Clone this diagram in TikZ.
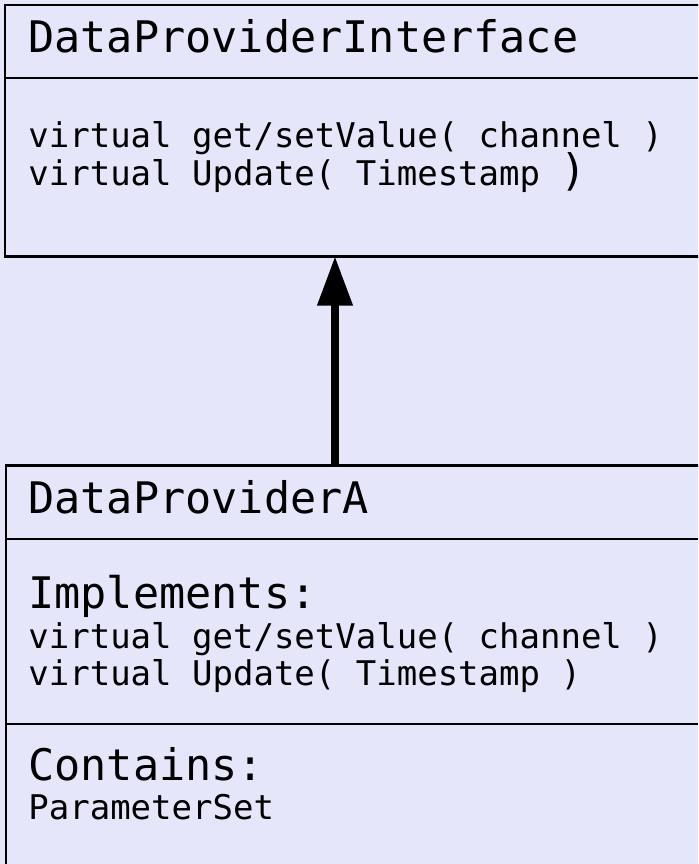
\documentclass[tikz,border=0pt]{standalone}
\usepackage{fontspec}
\setmonofont{DejaVu Sans Mono}
\usetikzlibrary{arrows.meta}
\definecolor{classfill}{RGB}{230,230,250}
\begin{document}
\begin{tikzpicture}[x=0.5pt,y=-0.5pt,
classbox/.style={draw=black,line width=1.4pt,fill=classfill,anchor=north west,inner sep=0pt,outer sep=0pt,minimum width=360pt},
divider/.style={draw=black,line width=0.55pt},
classname/.style={anchor=base west,inner sep=0pt,font=\ttfamily\fontsize{21.75pt}{26pt}\selectfont},
member/.style={anchor=base west,inner sep=0pt,font=\ttfamily\fontsize{17pt}{20pt}\selectfont},
inherit/.style={line width=3.6pt,-{Triangle[length=24.5pt,width=17pt]}}
]
\fill[classfill] (0,0) rectangle (698,864);
\useasboundingbox (0,0) rectangle (698,864);
\clip (0,0) rectangle (698,864);
% interface class
\node[classbox,minimum height=125.75pt] (iface) at (5,5) {};
\draw[divider] (5,78) -- (698,78);
\node[classname] (ifacename) at (28,52) {DataProviderInterface};
\node[member] (ifaceget) at (28,147) {virtual get/setValue( channel )};
\node[member] (ifaceupd) at (28,185) {virtual Update( Timestamp {\fontsize{21.75pt}{26pt}\selectfont)}};
% implementing class
\node[classbox,minimum height=220pt] (impl) at (6,465.5) {};
\draw[divider] (6,539) -- (698,539);
\draw[divider] (6,724) -- (698,724);
\node[classname] (implname) at (28,513) {DataProviderA};
\node[classname] (implhead) at (28,608) {Implements:};
\node[member] (implget) at (28,648) {virtual get/setValue( channel )};
\node[member] (implupd) at (28,685) {virtual Update( Timestamp )};
\node[classname] (conthead) at (28,780) {Contains:};
\node[member] (contparam) at (28,819) {ParameterSet};
% inheritance arrow
\coordinate (shaft) at (335,0);
\draw[inherit] (shaft |- impl.north) -- (shaft |- iface.south);
\end{tikzpicture}
\end{document}
